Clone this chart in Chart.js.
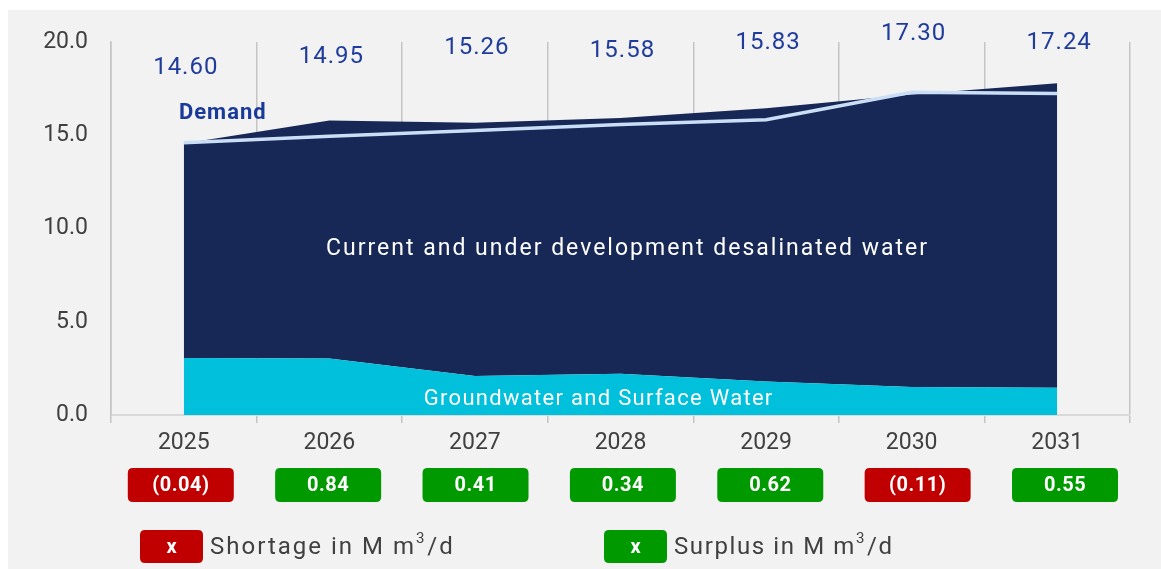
<!DOCTYPE html>
<html lang="en">
<head>
  <meta charset="UTF-8">
  <title>Water supply vs demand</title>
  <script src="https://cdn.jsdelivr.net/npm/chart.js"></script>
  <style>
    html, body { margin: 0; padding: 0; background: #ffffff; }
    #wrap { width: 1161px; height: 569px; }
  </style>
</head>
<body>
  <div id="wrap"><canvas id="myChart" width="1161" height="569"></canvas></div>
  <script>
  // chart data
  const years = ["2025", "2026", "2027", "2028", "2029", "2030", "2031"]
  const demand = [14.60, 14.95, 15.26, 15.58, 15.83, 17.30, 17.24]
  const groundwater = [3.06, 3.03, 2.09, 2.21, 1.80, 1.50, 1.46]
  const desalinated = [11.50, 12.76, 13.58, 13.71, 14.65, 15.69, 16.33]
  const balance = [-0.04, 0.84, 0.41, 0.34, 0.62, -0.11, 0.55]
  const yTicks = [0, 5, 10, 15, 20]

  const FONT = "Roboto, 'DejaVu Sans', sans-serif"
  const RED = "#c00000"
  const GREEN = "#009a00"
  const LABEL_BLUE = "#1f3c9c"

  // how far each demand label sits above its point (layout only)
  const labelLift = [75, 79, 82, 73, 77, 58, 50]

  function fmtBalance(v) {
    const s = Math.abs(v).toFixed(2)
    return v < 0 ? "(" + s + ")" : s
  }

  function roundRect(ctx, x, y, w, h, r) {
    ctx.beginPath()
    ctx.moveTo(x + r, y)
    ctx.lineTo(x + w - r, y)
    ctx.quadraticCurveTo(x + w, y, x + w, y + r)
    ctx.lineTo(x + w, y + h - r)
    ctx.quadraticCurveTo(x + w, y + h, x + w - r, y + h)
    ctx.lineTo(x + r, y + h)
    ctx.quadraticCurveTo(x, y + h, x, y + h - r)
    ctx.lineTo(x, y + r)
    ctx.quadraticCurveTo(x, y, x + r, y)
    ctx.closePath()
  }

  const panel = {
    id: "panel",
    beforeDraw(chart) {
      const ctx = chart.ctx
      ctx.save()
      ctx.fillStyle = "#ffffff"
      ctx.fillRect(0, 0, chart.width, chart.height)
      ctx.fillStyle = "#f2f2f2"
      ctx.fillRect(8, 10, chart.width - 8, chart.height - 10)
      ctx.restore()
    }
  }

  const extras = {
    id: "extras",
    afterDraw(chart) {
      const ctx = chart.ctx
      const x = chart.scales.x
      const y = chart.scales.y
      ctx.save()
      ctx.textAlign = "center"
      ctx.textBaseline = "middle"

      // demand values above the chart
      ctx.fillStyle = LABEL_BLUE
      ctx.font = "24px " + FONT
      ctx.letterSpacing = "1px"
      demand.forEach((v, i) => {
        ctx.fillText(v.toFixed(2), x.getPixelForValue(i) + 2, y.getPixelForValue(v) - labelLift[i])
      })

      // "Demand" tag
      ctx.font = "bold 22px " + FONT
      ctx.fillStyle = "#1a3a9a"
      ctx.fillText("Demand", x.getPixelForValue(0) + 39, y.getPixelForValue(demand[0]) - 29)

      // area names
      ctx.fillStyle = "#ffffff"
      ctx.font = "23px " + FONT
      ctx.letterSpacing = "2px"
      ctx.fillText("Current and under development desalinated water", x.getPixelForValue(3) + 7, y.getPixelForValue(8.9))
      ctx.font = "22px " + FONT
      ctx.letterSpacing = "1.3px"
      ctx.fillText("Groundwater and Surface Water", x.getPixelForValue(2.85), y.getPixelForValue(0.85))

      // surplus / shortage badges
      ctx.font = "bold 20px " + FONT
      ctx.letterSpacing = "0.5px"
      balance.forEach((v, i) => {
        const cx = x.getPixelForValue(i) - 3 + i * 1.8
        const cy = 485
        roundRect(ctx, cx - 53, cy - 17, 106, 34, 5)
        ctx.fillStyle = v < 0 ? RED : GREEN
        ctx.fill()
        ctx.fillStyle = "#ffffff"
        ctx.fillText(fmtBalance(v), cx, cy + 1)
      })

      // legend
      const items = [
        { color: RED, text: "Shortage in M m", x: 140, sp: "2px" },
        { color: GREEN, text: "Surplus in M m", x: 604, sp: "1.6px" }
      ]
      items.forEach((it) => {
        roundRect(ctx, it.x, 530, 63, 33, 5)
        ctx.fillStyle = it.color
        ctx.fill()
        ctx.fillStyle = "#ffffff"
        ctx.font = "bold 20px " + FONT
        ctx.letterSpacing = "0px"
        ctx.textAlign = "center"
        ctx.fillText("x", it.x + 31.5, 548)
        ctx.fillStyle = "#404040"
        ctx.font = "24px " + FONT
        ctx.letterSpacing = it.sp
        ctx.textAlign = "left"
        let tx = it.x + 70
        ctx.fillText(it.text, tx, 548)
        tx += ctx.measureText(it.text).width
        ctx.font = "15px " + FONT
        ctx.fillText("3", tx, 539)
        tx += ctx.measureText("3").width + 1
        ctx.font = "24px " + FONT
        ctx.fillText("/d", tx, 548)
      })
      ctx.restore()
    }
  }

  const data = {
    labels: years,
    datasets: [
      {
        label: "Demand",
        data: demand,
        stack: "demand",
        borderColor: "#cadff6",
        borderWidth: 3.5,
        pointRadius: 0,
        fill: false,
        tension: 0
      },
      {
        label: "Groundwater and Surface Water",
        data: groundwater,
        stack: "supply",
        backgroundColor: "#00c0dc",
        borderWidth: 0,
        pointRadius: 0,
        fill: "origin",
        tension: 0
      },
      {
        label: "Current and under development desalinated water",
        data: desalinated,
        stack: "supply",
        backgroundColor: "#172856",
        borderColor: "#172856",
        borderWidth: 0,
        pointRadius: 0,
        fill: "-1",
        tension: 0
      }
    ]
  }

  const config = {
    type: "line",
    data,
    plugins: [panel, extras],
    options: {
      responsive: false,
      animation: false,
      layout: { padding: { top: 42, right: 31, left: 0, bottom: 0 } },
      plugins: {
        legend: { display: false },
        tooltip: { enabled: false }
      },
      scales: {
        x: {
          offset: true,
          grid: {
            offset: true,
            color: "#c4c4c4",
            lineWidth: 1.5,
            tickLength: 8,
            drawTicks: true
          },
          border: { color: "#d9d9d9", width: 2 },
          ticks: {
            color: "#404040",
            font: { family: FONT, size: 23 },
            padding: 6
          },
          afterFit(scale) { scale.height = 154 }
        },
        y: {
          stacked: true,
          min: 0,
          max: 20,
          afterBuildTicks(scale) { scale.ticks = yTicks.map((v) => ({ value: v })) },
          grid: { display: false },
          border: { color: "#c4c4c4", width: 1.5 },
          ticks: {
            color: "#404040",
            font: { family: FONT, size: 23 },
            padding: 15,
            callback: (v) => Number(v).toFixed(1)
          },
          afterFit(scale) { scale.width = 111 }
        }
      }
    }
  }

  var myChart = new Chart(document.getElementById("myChart"), config)
  </script>
</body>
</html>
